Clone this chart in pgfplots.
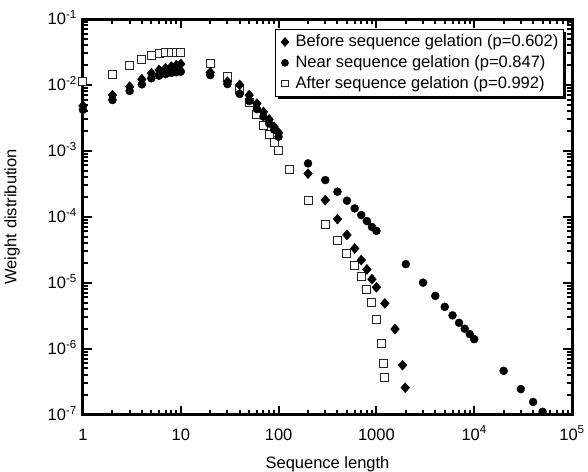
\documentclass[border=0pt]{standalone}
\usepackage{fontspec}
\setmainfont{Liberation Sans}
\usepackage{pgfplots}
\pgfplotsset{compat=1.18}
\usetikzlibrary{shadows}

% Before sequence gelation (p=0.602)
\pgfplotstableread{
x y
1 0.0048
2 0.0070
3 0.0094
4 0.0122
5 0.0150
6 0.0168
7 0.0179
8 0.0189
9 0.0200
10 0.0208
20 0.0155
30 0.0112
40 0.0100
50 0.0070
60 0.0052
70 0.0039
80 0.0030
90 0.0023
100 0.00188
200 4.5e-4
300 1.79e-4
400 9.2e-5
500 5.3e-5
600 3.3e-5
700 2.2e-5
800 1.59e-5
900 1.13e-5
1000 8.5e-6
1220 4.85e-6
1550 1.98e-6
1850 5.6e-7
1970 2.55e-7
}\before

% Near sequence gelation (p=0.847)
\pgfplotstableread{
x y
1 0.0042
2 0.0059
3 0.0081
4 0.0102
5 0.0126
6 0.0138
7 0.0146
8 0.0152
9 0.0156
10 0.0159
20 0.0141
30 0.0103
40 0.0073
50 0.0057
60 0.0043
70 0.0033
80 0.0026
90 0.0021
100 0.00164
200 6.45e-4
300 3.6e-4
400 2.4e-4
500 1.75e-4
600 1.34e-4
700 1.06e-4
800 8.6e-5
900 7.0e-5
1000 6.1e-5
2000 1.91e-5
3000 1.0e-5
4000 6.3e-6
5000 4.3e-6
6000 3.19e-6
7000 2.46e-6
8000 2.0e-6
9000 1.66e-6
10000 1.39e-6
20000 4.6e-7
30000 2.43e-7
40000 1.55e-7
50000 1.1e-7
}\near

% After sequence gelation (p=0.992)
\pgfplotstableread{
x y
1 0.0112
2 0.0146
3 0.0200
4 0.0239
5 0.0275
6 0.0300
7 0.0310
8 0.0313
9 0.0313
10 0.0315
20 0.0215
30 0.0132
40 0.0084
50 0.0055
60 0.0036
70 0.00246
80 0.0018
90 0.00133
100 0.00102
130 5.2e-4
200 1.75e-4
300 7.5e-5
400 4.4e-5
500 2.8e-5
600 1.85e-5
700 1.24e-5
800 7.9e-6
900 4.96e-6
1000 2.8e-6
1130 1.2e-6
1170 6.0e-7
1200 3.7e-7
}\after

\begin{document}
\fontsize{16.5bp}{19.5bp}\selectfont
\begin{tikzpicture}
\begin{axis}[
    at={(0,0)}, anchor=south west,
    scale only axis,
    width=489bp, height=395.5bp,
    xmode=log, ymode=log,
    xmin=1, xmax=1e5, ymin=1e-7, ymax=1e-1,
    clip=false,
    axis line style={line width=3bp},
    tick align=inside,
    xtick pos=both, ytick pos=both,
    major tick length=9bp, minor tick length=5bp,
    tick style={line width=2bp, black},
    xtick={1,10,100,1000,10000,100000},
    xticklabels={1,10,100,1000,10\textsuperscript{4},10\textsuperscript{5}},
    ytick={1e-7,1e-6,1e-5,1e-4,1e-3,1e-2,1e-1},
    yticklabels={10\textsuperscript{-7},10\textsuperscript{-6},10\textsuperscript{-5},10\textsuperscript{-4},10\textsuperscript{-3},10\textsuperscript{-2},10\textsuperscript{-1}},
    xticklabel style={anchor=base, inner sep=0pt, yshift=-25.5bp},
    yticklabel style={anchor=base east, inner sep=0pt, xshift=-6bp, yshift=-5.9bp},
    xlabel={Sequence length},
    xlabel style={at={(axis description cs:0.5,-0.1353)}, anchor=base},
    ylabel={Weight distribution},
    ylabel style={at={(axis description cs:-0.136,0.5)}, anchor=base},
    legend cell align=left,
    legend style={at={(axis description cs:0.9836,0.9747)}, anchor=north east,
        draw=black, line width=1.2bp, fill=white,
        drop shadow={shadow xshift=2.5bp, shadow yshift=-2.5bp, fill=black, opacity=1},
        row sep=0pt, inner sep=2bp, nodes={inner xsep=3bp, inner ysep=3.2bp}},
    legend image code/.code={%
        \path (0bp,0bp) (14bp,0bp);
        \draw[#1, /tikz/every mark/.append style={scale=0.8}] plot coordinates {(7bp,0bp)};},
    sqstyle/.style={only marks, mark=square*, mark size=4bp,
        mark options={fill=white, draw=black!85, line width=1bp}},
]
% open squares go underneath the filled marks
\addplot[sqstyle, forget plot] table {\after};
\addplot[only marks, mark=diamond*, mark size=5bp,
    mark options={fill=black, draw=black, xscale=1.16}] table {\before};
\addlegendentry{Before sequence gelation (p=0.602)}
\addplot[only marks, mark=*, mark size=4bp,
    mark options={fill=black, draw=black}] table {\near};
\addlegendentry{Near sequence gelation (p=0.847)}
\addlegendimage{sqstyle}
\addlegendentry{After sequence gelation (p=0.992)}
\end{axis}
\pgfresetboundingbox
\path[use as bounding box] (-83bp,-57.5bp) rectangle (505bp,414.5bp);
\end{tikzpicture}
\end{document}
